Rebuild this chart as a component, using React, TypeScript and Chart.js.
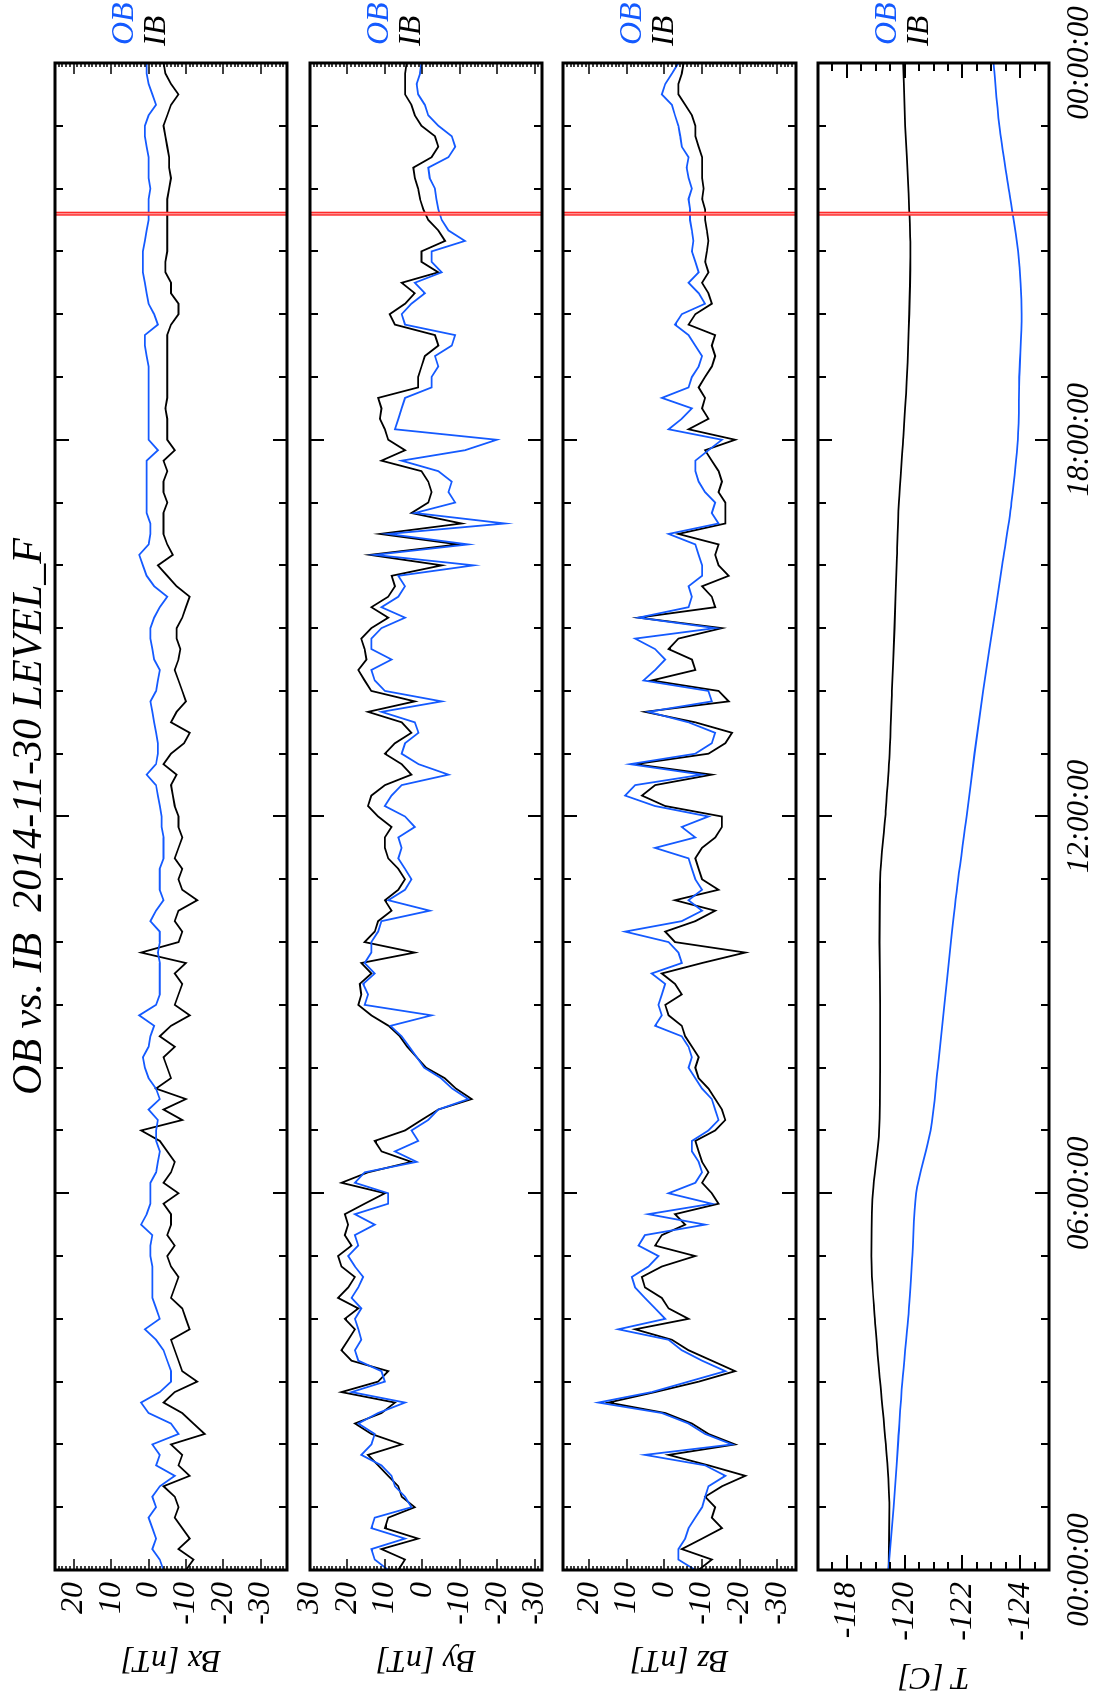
import React, { useEffect, useRef } from 'react';
import { Chart, registerables } from 'chart.js';

Chart.register(...registerables);

// ---------- data ----------
const SAMPLE_STEP_H = 1 / 6; // 10-minute samples, 00:00 .. 24:00
const timeTickHours = [0, 6, 12, 18, 24];
const timeTickLabels = ['00:00:00', '06:00:00', '12:00:00', '18:00:00', '00:00:00'];
const redLineHour = 21.6;

const bxIB = [
  -10, -12, -8, -11, -9, -7,
  -8, -7, -4, -11, -8, -9,
  -6, -15, -12, -9, -4, -7,
  -13, -9, -8, -7, -6, -11,
  -10, -9, -6, -7, -8, -6,
  -5, -7, -5, -6, -6, -4,
  -8, -4, -6, -7, -5, -3,
  2, -9, -4, -10, -2, -6,
  -5, -4, -7, -3, -6, -11,
  -7, -8, -9, -7, -10, 2,
  -8, -9, -7, -8, -13, -9,
  -8, -9, -7, -8, -9, -8,
  -8, -7, -6.5, -6, -7.5, -4,
  -6, -9.5, -11, -6, -7.5, -10,
  -9, -8, -7, -8, -8.5, -7.5,
  -7.5, -9, -10, -11, -7.5, -5,
  -2.5, -6.5, -5, -4, -4, -4,
  -5, -4, -4, -5, -4, -7,
  -5, -5, -5, -4.5, -5, -5,
  -5, -5, -5, -5, -5, -6,
  -8, -8, -6, -6, -4.5, -4.5,
  -5, -5, -5, -5, -5, -5,
  -5.5, -6, -5.5, -5.5, -5, -4.5,
  -4, -5, -6, -8, -6, -4.5,
  -4,
];
const bxOB = [
  -4, -3, -1, -2, -1, 0,
  -2, -1, -3, -7, -2, -3,
  -1, -8, -6, 0, 2, -3,
  -6, -6, -5, -4, -2, 1,
  -3, -2, -1, -1, -1, -1,
  -0.5, -0.5, -1, 2, 0.5, -0.5,
  -0.5, -0.5, -2, -2.5, -3, -2,
  -2, -2.5, 0, -3, -2, 0,
  1, 1.5, 0, -0.5, -1.5, 2.5,
  -2, -3, -3, -3, -3, -2.5,
  -3, -3, -0.5, -2, -4, -3,
  -3, -3, -4, -4, -4, -3.5,
  -3.5, -3, -2.5, -2, 0.5, -2,
  -2.5, -2.5, -2, -1.5, -1, -0.5,
  -2, -2.5, -3, -1.5, -1, -0.5,
  -0.5, -1.5, -3, -5, -1.5, 0.5,
  1.5, 2.5, 0, -0.5, -0.5, 0.5,
  0.5, 0.5, 0.5, 0.5, 0.5, -2.5,
  0, 0, 0, 0, 0, 0,
  0, 0, 0.5, 1, 1, -2.5,
  -1.5, 0, 0.5, 1, 1.5, 1.5,
  1.5, 1, 0.5, 0, 0, 0,
  -0.5, 0, 0, 0, 0.5, 1,
  1, 0, -2, -1, 0, 0.5,
  0.5,
];

const byIB = [
  6.4, 4.6, 10.9, 1.1, 10, 9.1,
  2, 5.5, 6.4, 9.1, 11.8, 14.5,
  5.5, 13.6, 18, 10.9, 7.3, 21.6,
  11.8, 9.1, 18.9, 21.6, 19.8, 18,
  20.7, 17.1, 22.5, 19.8, 18, 21.6,
  22.5, 18.9, 20.7, 19.8, 20.7, 15.4,
  10, 21.6, 14.5, 2.9, 10.9, 12.7,
  4.6, 0.2, -4.3, -13.2, -9, -6,
  -1, 1.5, 4, 6, 9, 13.6,
  17.1, 16.3, 16.7, 13.6, 16.3, 2,
  15.4, 12.7, 11.8, 8.2, 10, 6.4,
  4.6, 6.4, 9.1, 10, 10, 8.2,
  11.8, 14.5, 13.6, 10, 2.9, 5.5,
  10, 7.3, 2.9, 5.5, 14.5, 2,
  13.6, 15.4, 17.1, 14.9, 15.4, 16.3,
  13.6, 9.1, 13.6, 9.1, 7.3, 8.2,
  -5.2, 14, -9.6, 11.3, -10.5, 2.9,
  -1.6, -2.5, -1.6, 0.2, 10.9, 4.6,
  9.1, 10, 11.3, 10.9, 11.8, 1.1,
  1.1, 0.2, -0.7, -4.3, -3.4, 7.3,
  8.7, 4.6, 2, 5.5, -4.3, 0.2,
  0.2, -6.1, -4.3, -1.6, -0.3, 0.6,
  1.1, 2, 2.4, -2.5, -4.3, -3.4,
  0.2, 2, 2.9, 4.6, 4.6, 4.6,
  4.2,
];
const byOB = [
  9.1, 12.7, 13.6, 4.6, 13.6, 12.7,
  2.9, 4.6, 7.3, 8.2, 10.9, 16.3,
  13.6, 12.7, 17.1, 11.8, 4.6, 18.9,
  10, 10.9, 17.1, 18, 16.3, 17.1,
  18, 16.3, 18.9, 17.1, 15.8, 18,
  19.8, 17.1, 18, 12.7, 18, 9.1,
  9.1, 18, 15.4, 1.5, 7.3, 1.1,
  2.9, -1.6, -4.3, -12.3, -8, -5,
  -0.5, 1.5, 3.5, 5.5, 8.5, -2.5,
  15.4, 14.5, 15.8, 12.7, 15.4, 13.6,
  13.6, 11.8, 10.9, -2, 9.1, 4.6,
  2.9, 4.6, 6.4, 5.5, 6.4, 2,
  4.6, 10, 8.2, 5.5, -7, 1,
  5.5, 4.6, 1, 2, 10.9, -5.2,
  10, 12.7, 13.6, 8.2, 13.6, 13.6,
  10.9, 4.6, 10.9, 6.4, 4.6, 6.4,
  -13.7, 12.7, -12.3, 9.1, -22.1, 2,
  -8.8, -7, -7.9, -4.3, 5.5, -11.4,
  -19.9, 7.3, 6.4, 5.5, 4.6, -2.5,
  -2.5, -4.3, -3.4, -7.9, -8.8, 4.6,
  5.5, 2.9, -0.7, 2, -5.2, -2.5,
  -2.5, -11.4, -7, -5.2, -4.3, -3.8,
  -3.4, -2, -1.6, -7, -8.8, -7.9,
  -4.3, -1.6, -0.7, 1.1, 1.5, 0.6,
  0.2,
];

const bzIB = [
  -9.1, -12.6, -4.6, -10, -15.3, -12.6,
  -13.5, -10.8, -15.3, -21.5, -11.7, -1.1,
  -18.8, -11.7, -7.3, -0.2, 14.9, 2.5,
  -9.1, -18.8, -12.6, -6.4, -2, 7.8,
  -6.4, -1.1, 0.7, 5.2, 6, 0.7,
  -8.2, 2.5, 0.7, -5.5, -2.8, -14.4,
  -12.6, -10, -11.7, -10, -9.1, -8.2,
  -13.5, -16.2, -15.3, -13.5, -11.7, -9.1,
  -8.2, -9.1, -7.3, -5.5, -4.6, -1.1,
  -0.2, -4.6, -2.8, 0.7, -10, -21.5,
  -2.8, -0.2, -8.2, -13.5, -2.8, -14.4,
  -10, -9.1, -8.2, -10, -13.5, -15.3,
  -15.3, -0.2, 6, 2.5, -12.6, 7.8,
  -11.7, -16.2, -18, -8.2, 5.2, -17.1,
  -14.4, 3.4, -8.2, -7.3, -1.1, -3.7,
  -15.3, 6.9, -13.5, -12.6, -10, -17.1,
  -14.4, -13.5, -14.4, -3.7, -16.2, -16.2,
  -16.2, -14.4, -15.3, -14.4, -12.6, -10.8,
  -18.8, -6.4, -11.7, -10, -10.8, -9.1,
  -10.8, -12.6, -13.5, -12.6, -13.5, -6.4,
  -8.2, -12.6, -11.7, -10, -11.7, -10.8,
  -11.3, -11.7, -11.3, -10.8, -10.8, -10,
  -10.4, -10, -10, -10, -9.1, -8.2,
  -8.2, -7.3, -5.5, -3.7, -3.7, -4.6,
  -5.1,
];
const bzOB = [
  -8.2, -3.7, -3.7, -5.5, -6.4, -8.2,
  -10, -10.8, -11.7, -16.2, -10.8, 5.2,
  -18, -10.8, -6.4, 0.7, 17.6, 3.4,
  -6.4, -16.2, -10, -4.6, -1.1, 12.3,
  -0.2, 2.5, 5.2, 7.8, 8.7, 4.3,
  1.6, 6.9, 5.2, -10.8, 4.3, -12.6,
  -1.1, -8.2, -10, -9.1, -7.3, -7.3,
  -11.7, -14.4, -13.5, -12.6, -10, -8.2,
  -6.4, -7.3, -6.4, -4.6, 2.5, 0.7,
  1.6, 0.7, -0.2, 3.4, -4.6, -3.7,
  -1.1, 10.5, -4.6, -10, -6.4, -10,
  -8.2, -7.3, -6.4, 2.5, -8.2, -4.6,
  -11.7, 2.5, 10.5, 7.8, -10, 9.2,
  -8.2, -12.6, -13.5, -6.4, 4.3, -12.6,
  -11.7, 5.6, 2.5, -0.2, 2.5, 7.8,
  -13.5, 6.9, -6.4, -7.3, -6.4, -10,
  -10, -9.1, -8.2, -1.1, -14.4, -12.6,
  -13.5, -10.8, -9.1, -8.2, -8.2, -11.7,
  -15.3, -1.1, -4.6, -7.3, 0.7, -6.4,
  -7.3, -9.1, -10, -8.2, -6.4, -2.8,
  -4.6, -10.8, -9.1, -6.4, -9.1, -8.2,
  -7.3, -7.7, -7.3, -6.8, -6.8, -6.4,
  -7.3, -6.4, -5.9, -6.4, -4.6, -4.2,
  -3.7, -2.8, -2, 0.7, -0.2, -2,
  -3.7,
];

// temperature: hourly samples 00:00 .. 24:00
const tHours = [0, 1, 2, 3, 4, 5, 6, 7, 8, 9, 10, 11, 12, 13, 14, 15, 16, 17, 18, 19, 20, 21, 22, 23, 24];
const tIB = [
  -119.45, -119.47, -119.35, -119.15, -118.97, -118.85, -118.9, -119.12, -119.15, -119.15,
  -119.13, -119.15, -119.33, -119.48, -119.56, -119.65, -119.72, -119.8, -119.95, -120.08,
  -120.16, -120.2, -120.13, -120.02, -119.95,
];
const tOB = [
  -119.44, -119.62, -119.77, -119.92, -120.12, -120.27, -120.4, -120.9, -121.15, -121.38,
  -121.6, -121.85, -122.15, -122.42, -122.72, -123.05, -123.38, -123.7, -123.92, -123.97,
  -124.05, -123.93, -123.6, -123.28, -123.08,
];

const bxTicks = [20, 10, 0, -10, -20, -30];
const byTicks = [30, 20, 10, 0, -10, -20, -30];
const bzTicks = [20, 10, 0, -10, -20, -30];
const tTicks = [-118, -120, -122, -124];

// ---------- styling / layout ----------
const BLUE = 'rgb(20, 90, 255)';
const FONT = '"Liberation Serif", "Times New Roman", serif';
const W = 1696;
const H = 1104;
const PLOT_LEFT = 126;
const PLOT_RIGHT = 1633;

const sampleHours = bxIB.map((_, i) => i * SAMPLE_STEP_H);

type Panel = {
  key: string;
  yTitle: string;
  ib: number[];
  ob: number[];
  hours: number[];
  min: number;
  max: number;
  ticks: number[];
  major: number;
  minor: number;
  majorLen: number;
  minorLen: number;
  top: number;
  bottom: number;
  titlePad: number;
  smooth: boolean;
};

const PANELS: Panel[] = [
  { key: 'bx', yTitle: 'Bx [nT]', ib: bxIB, ob: bxOB, hours: sampleHours, min: -37, max: 25, ticks: bxTicks, major: 10, minor: 1, majorLen: 11, minorLen: 4, top: 55, bottom: 287, titlePad: 17, smooth: false },
  { key: 'by', yTitle: 'By [nT]', ib: byIB, ob: byOB, hours: sampleHours, min: -32, max: 30, ticks: byTicks, major: 10, minor: 1, majorLen: 11, minorLen: 4, top: 310, bottom: 542, titlePad: 17, smooth: false },
  { key: 'bz', yTitle: 'Bz [nT]', ib: bzIB, ob: bzOB, hours: sampleHours, min: -35, max: 27, ticks: bzTicks, major: 10, minor: 1, majorLen: 11, minorLen: 4, top: 563, bottom: 796, titlePad: 17, smooth: false },
  { key: 't', yTitle: 'T [C]', ib: tIB, ob: tOB, hours: tHours, min: -125, max: -117, ticks: tTicks, major: 2, minor: 0.5, majorLen: 15, minorLen: 8, top: 818, bottom: 1049, titlePad: 0, smooth: true },
];

function makeDecorPlugin(p: Panel) {
  return {
    id: 'decor_' + p.key,
    afterDatasetsDraw(chart: any) {
      const { ctx, chartArea } = chart;
      const { left, right, top, bottom } = chartArea;
      const x = chart.scales.x;
      const y = chart.scales.y;
      ctx.save();
      // red marker line
      const rx = x.getPixelForValue(redLineHour);
      ctx.fillStyle = '#ff2a2a';
      ctx.fillRect(rx - 2, top, 4, bottom - top);
      ctx.fillStyle = '#ff9c9c';
      ctx.fillRect(rx - 0.6, top, 1.2, bottom - top);
      // time ticks (inward, both edges)
      ctx.strokeStyle = '#000';
      ctx.lineWidth = 2;
      ctx.beginPath();
      for (let h = 0; h <= 24; h++) {
        const len = h % 6 === 0 ? 14 : 8;
        const px = Math.round(x.getPixelForValue(h));
        ctx.moveTo(px, top);
        ctx.lineTo(px, top + len);
        ctx.moveTo(px, bottom);
        ctx.lineTo(px, bottom - len);
      }
      ctx.stroke();
      // value ticks (inward, both edges)
      ctx.beginPath();
      ctx.lineWidth = p.minor < 1 ? 2 : 1.6;
      const k0 = Math.ceil(p.min / p.minor);
      const k1 = Math.floor(p.max / p.minor);
      for (let k = k0; k <= k1; k++) {
        const v = k * p.minor;
        const r = v / p.major;
        const isMajor = Math.abs(r - Math.round(r)) < 1e-6;
        const len = isMajor ? p.majorLen : p.minorLen;
        const py = Math.round(y.getPixelForValue(v));
        ctx.moveTo(left, py);
        ctx.lineTo(left + len, py);
        ctx.moveTo(right, py);
        ctx.lineTo(right - len, py);
      }
      ctx.stroke();
      // frame
      ctx.lineWidth = 3;
      ctx.strokeRect(left, top, right - left, bottom - top);
      // OB / IB labels
      ctx.font = `italic 32px ${FONT}`;
      ctx.textBaseline = 'middle';
      ctx.textAlign = 'left';
      ctx.fillStyle = BLUE;
      ctx.fillText('OB', right + 18, top + 70);
      ctx.fillStyle = '#000';
      ctx.fillText('IB', right + 17, top + 102);
      ctx.restore();
    },
  };
}

function buildConfig(p: Panel, index: number): any {
  const isFirst = index === 0;
  const isLast = index === PANELS.length - 1;
  const titleHeight = 42 * 1.2;
  const xAxisHeight = isLast ? H - p.bottom : 0;
  const padTop = isFirst ? p.top - titleHeight : p.top;
  const padBottom = H - p.bottom - xAxisHeight;
  const toPts = (vals: number[]) => vals.map((v, i) => ({ x: p.hours[i], y: v }));
  return {
    type: 'line',
    data: {
      datasets: [
        {
          label: 'OB',
          data: toPts(p.ob),
          borderColor: BLUE,
          borderWidth: 1.8,
          pointRadius: 0,
          tension: 0,
          cubicInterpolationMode: p.smooth ? 'monotone' : 'default',
          fill: false,
        },
        {
          label: 'IB',
          data: toPts(p.ib),
          borderColor: '#000',
          borderWidth: 1.8,
          pointRadius: 0,
          tension: 0,
          cubicInterpolationMode: p.smooth ? 'monotone' : 'default',
          fill: false,
        },
      ],
    },
    options: {
      responsive: false,
      maintainAspectRatio: false,
      animation: false,
      devicePixelRatio: 1,
      events: [],
      layout: { padding: { left: 0, right: W - PLOT_RIGHT, top: padTop, bottom: padBottom } },
      plugins: {
        legend: { display: false },
        tooltip: { enabled: false },
        title: isFirst
          ? {
              display: true,
              text: 'OB vs. IB  2014-11-30 LEVEL_F',
              fullSize: false,
              color: '#000',
              font: { family: FONT, style: 'italic', weight: 'normal', size: 42, lineHeight: 1.2 },
              padding: 0,
            }
          : { display: false },
      },
      scales: {
        x: {
          type: 'linear',
          min: 0,
          max: 24,
          display: isLast,
          position: 'bottom',
          grid: { display: false, drawTicks: false },
          border: { display: false },
          afterBuildTicks: (s: any) => {
            s.ticks = timeTickHours.map((v) => ({ value: v }));
          },
          afterFit: (s: any) => {
            s.height = xAxisHeight;
            s.paddingLeft = 0;
            s.paddingRight = 0;
          },
          ticks: {
            autoSkip: false,
            maxRotation: 0,
            padding: 12,
            color: '#000',
            font: { family: FONT, style: 'italic', size: 31 },
            callback: (_v: any, i: number) => timeTickLabels[i],
          },
        },
        y: {
          type: 'linear',
          min: p.min,
          max: p.max,
          position: 'left',
          grid: { display: false, drawTicks: false },
          border: { display: false },
          afterBuildTicks: (s: any) => {
            s.ticks = p.ticks.map((v) => ({ value: v }));
          },
          afterFit: (s: any) => {
            s.width = PLOT_LEFT;
            s.paddingTop = 0;
            s.paddingBottom = 0;
          },
          ticks: {
            autoSkip: false,
            padding: 12,
            color: '#000',
            font: { family: FONT, style: 'italic', size: 32 },
            callback: (v: any) => String(v),
          },
          title: {
            display: true,
            text: p.yTitle,
            color: '#000',
            font: { family: FONT, style: 'italic', size: 32, lineHeight: 1.2 },
            padding: { top: p.titlePad, bottom: 0 },
          },
        },
      },
    },
    plugins: [makeDecorPlugin(p)],
  };
}

export default function App() {
  const canvasRefs = useRef<(HTMLCanvasElement | null)[]>([]);

  useEffect(() => {
    const charts = PANELS.map((p, i) => new Chart(canvasRefs.current[i] as HTMLCanvasElement, buildConfig(p, i)));
    return () => {
      charts.forEach((c) => c.destroy());
    };
  }, []);

  return (
    <div style={{ position: 'fixed', left: 0, top: 0, width: 1104, height: 1696, overflow: 'hidden', background: '#fff' }}>
      <div
        style={{
          position: 'absolute',
          left: 0,
          top: 0,
          width: W,
          height: H,
          transformOrigin: '0 0',
          transform: `translate(0px, ${W}px) rotate(-90deg)`,
        }}
      >
        {PANELS.map((p, i) => (
          <canvas
            key={p.key}
            ref={(el) => {
              canvasRefs.current[i] = el;
            }}
            width={W}
            height={H}
            style={{ position: 'absolute', left: 0, top: 0, width: W, height: H }}
          />
        ))}
      </div>
    </div>
  );
}
